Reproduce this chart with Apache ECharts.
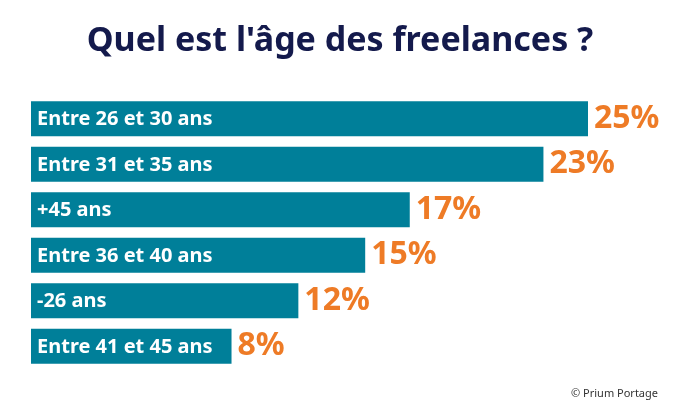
<!DOCTYPE html>
<html><head><meta charset="utf-8">
<script src="https://cdn.jsdelivr.net/npm/echarts@6/dist/echarts.min.js"></script>
<style>html,body{margin:0;padding:0;background:#fff}#c{width:680px;height:415px}</style>
</head><body><div id="c"></div>
<script>
var categories = ["Entre 26 et 30 ans", "Entre 31 et 35 ans", "+45 ans", "Entre 36 et 40 ans", "-26 ans", "Entre 41 et 45 ans"];
var barValues = [25, 23, 17, 15, 12, 9];
var percentLabels = ["25%", "23%", "17%", "15%", "12%", "8%"];
var titleText = "Quel est l'âge des freelances ?";
var sourceText = "© Prium Portage";

var chart = echarts.init(document.getElementById('c'));
chart.setOption({
  backgroundColor: '#ffffff',
  animation: false,
  title: {
    text: titleText, left: 'center', top: 19,
    textStyle: { fontFamily: 'Noto Sans', fontWeight: 'bold', fontSize: 34, color: '#141a4c' }
  },
  graphic: [{
    type: 'text', right: 22, top: 388,
    style: { text: sourceText, fontFamily: 'Noto Sans', fontSize: 11, fill: '#333333' }
  }],
  grid: { left: 31, right: 92, top: 96, bottom: 46 },
  xAxis: { type: 'value', min: 0, max: 25, show: false },
  yAxis: { type: 'category', data: categories, inverse: true, show: false },
  series: [{
    type: 'bar', data: barValues, barWidth: 35,
    itemStyle: { color: '#007f99' },
    label: {
      show: true, position: 'right', distance: 6,
      formatter: function (p) { return percentLabels[p.dataIndex]; },
      fontFamily: 'Noto Sans', fontWeight: 'bold', fontSize: 32, color: '#ee7b26'
    }
  }, {
    type: 'bar', data: barValues, barWidth: 35, barGap: '-100%',
    itemStyle: { color: 'rgba(0,0,0,0)' },
    label: {
      show: true, position: 'insideLeft', distance: 6, offset: [0, 1],
      formatter: function (p) { return categories[p.dataIndex]; },
      fontFamily: 'Noto Sans', fontWeight: 'bold', fontSize: 20, color: '#ffffff'
    }
  }]
});
</script></body></html>
